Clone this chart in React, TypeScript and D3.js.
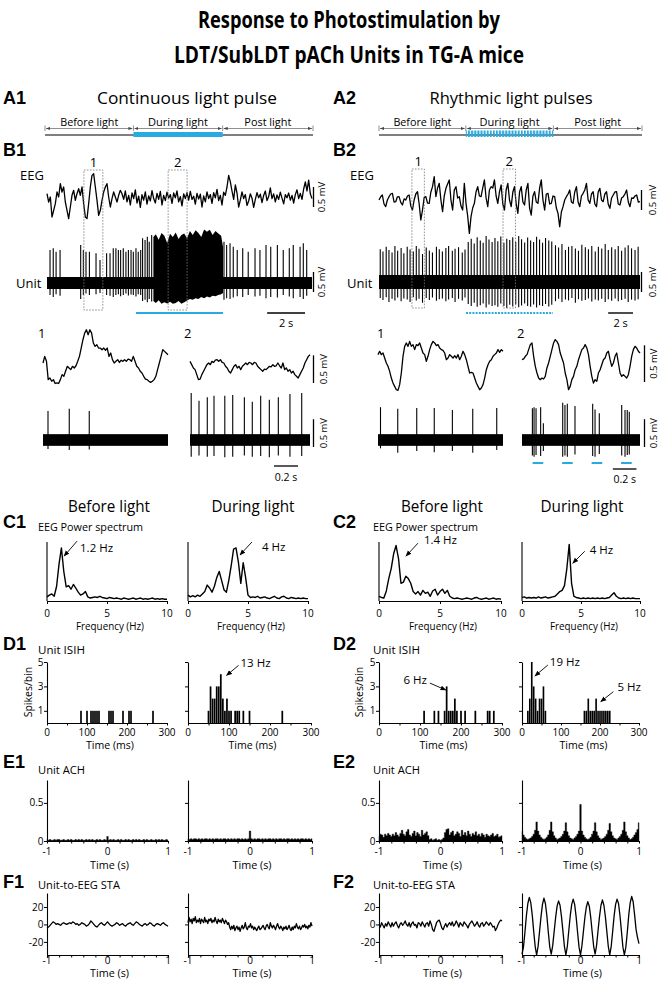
import React from 'react';
import * as d3 from 'd3';

const W = 660;
const H = 983;
const CYAN = '#29abe2';
const SANS = "'Open Sans', 'Noto Sans', sans-serif";
const ARIAL = "'Liberation Sans', Arial, sans-serif";

// ---------- A: protocol ----------
const phaseLabels = ['Before light', 'During light', 'Post light'];
const phaseBounds = [0, 0.33, 0.663, 1];
const phaseLabelWidths = [58, 60, 47];

// ---------- B: raw traces (uV) ----------
const eegB1 = [
  83, -125, 0, -500, -333, -167, 125, 0, 333, 125, 250, -125, -333, -540, -250, 42, 167, -83, 83, 208,
  42, 250, -167, -500, -540, -167, 250, 540, 580, 250, -83, -460, -333, -83, 125, 250, 333, 0, -250, -42,
  125, 0, -125, 42, 167,
  80, -60, 150, -120, 40, -200, 100, -40, 180, -150, 20, -260, 60, -80, 130, -180, 30, -100, 160, -40,
  -150, 90, -60, 140, -200, 40, -90, 120, -30, 60, -160, 100, -20, 150, -120, 10, -220, 80, -40, 110,
  -80, 140, -60, 20, -180, 90, -50, 70, -250, 30, -120, 130, -40, 60, -160, 110, -20, 190, -90, 40,
  -200, 120, 40, 250, 540, 380, 150, -60, 300, 100, -250, -80, 130, -40, 60, -210, -100, 80, -30, -260,
  -60, 110, -20, 70, -140, 40, 150, -90, 10, 230, -40, 80, -120, 50, -60, 120, -30, -170, 60, -20,
  100, -80, 40, -150, 60, 180, -40, 90, -60, 200, 380, 150, 420, 80, -40,
];
const eegB2 = [
  0, 80, 125, -100, -167, 0, 83, 150, 167, -50, -42, 80, 83, -60, -125, 30, 0, 100, 125, -150,
  -250, 0, 150, 208, -100, -500, -250, 60, 83, -80, -83, 200, 333, 583, 83, 300, 417, 0, -292, 100,
  292, 400, 500, 0, -250, 250, 333, 50, 83, -150, -250, 417, -83, -400, -833, -417, -200, -83, 200, 333,
  100, 83, 300, 500, 50, -167, 250, 333, 300, 500, 100, -83, 200, 375, -100, -250, 250, 417, 0, -167,
  200, 333, -100, -333, 200, 333, -50, -125, 250, 417, -200, -375, 100, 208, -50, -83, 300, 500, 0, -250,
  150, 167, -100, -83, 100, 83, -200, -333, -667, -300, -167, 0, 83, 150, 250, -50, -83, 200, 333, -50,
  -167, 100, 167, 250, 417, 0, -83, 150, 208, -100, -167, 200, 292, 0, -42, 150, 208, -100, -208, 50,
  125, 200, 208, -100, -125, 50, 83, 150, 250, -50, -167, 50, 42, 100, 125, -50, -42,
];

const durB1 = 14;
const durB2 = 21;
const lightB1 = [4.7, 9.3];
const lightB2 = [7.0, 14.0];
const windowsB1 = [1.95, 6.4];
const windowsB2 = [2.65, 9.98];
const windowDur = 1.0;

const unitB1T = [
  0.16, 0.33, 0.48, 0.69, 1.78, 1.92, 2.06, 2.24, 2.59, 2.8, 3.15, 3.33, 3.5, 3.64, 3.77, 3.89,
  4.03, 4.17, 4.3, 4.44, 4.56, 4.7, 4.82, 4.95, 5.05, 5.18, 5.3, 5.4, 5.53,
  9.35, 9.49, 9.67, 9.84, 10.05, 10.34, 10.63, 10.99, 11.25, 11.57, 11.82, 12.17, 12.48, 12.8,
  13.01, 13.37, 13.54, 13.72,
];
const unitB1Up = [
  825, 867, 783, 825, 950, 825, 783, 783, 742, 575, 742, 742, 867, 867, 825, 825, 867, 783, 825, 825,
  783, 867, 783, 825, 1117, 1075, 1158, 1033, 1200, 1033, 950, 992, 908, 825, 867, 783, 867, 825, 950,
  908, 950, 825, 867, 950, 908, 992, 825,
];
const unitB1Down = [
  -300, -350, -280, -320, -400, -300, -260, -300, -280, -250, -300, -320, -350, -300, -280, -330,
  -300, -260, -310, -290, -300, -340, -280, -300, -450, -420, -480, -400, -460, -420, -380, -400,
  -360, -330, -350, -300, -340, -320, -380, -350, -360, -300, -340, -380, -350, -400, -320,
];
// dense firing during the light pulse: envelope of the spike block
const burstB1T = [
  5.62, 5.75, 5.9, 6.05, 6.2, 6.35, 6.5, 6.65, 6.8, 6.95, 7.1, 7.25, 7.4, 7.55, 7.7, 7.85, 8.0,
  8.15, 8.3, 8.45, 8.6, 8.75, 8.9, 9.05, 9.2, 9.3,
];
const burstB1Top = [
  1150, 1220, 1080, 1250, 1180, 1000, 1230, 1150, 1260, 1100, 1200, 1240, 1120, 1300, 1200, 1320,
  1250, 1150, 1340, 1280, 1330, 1200, 1300, 1240, 1180, 900,
];
const burstB1Bot = [
  -450, -500, -430, -520, -480, -510, -470, -520, -500, -450, -520, -480, -440, -400, -420, -380,
  -400, -350, -380, -340, -360, -320, -330, -300, -280, -250,
];

const unitB2T = [
  0.1, 0.32, 0.58, 0.8, 1.05, 1.28, 1.5, 1.78, 2.0, 2.27, 2.5, 2.76, 3.0, 3.22, 3.5, 3.8, 4.05, 4.3,
  4.62, 4.85, 5.1, 5.38, 5.6, 5.9, 6.12, 6.4, 6.7, 6.92,
  7.18, 7.42, 7.66, 7.9, 8.15, 8.38, 8.62, 8.85, 9.1, 9.33, 9.56, 9.8, 10.05, 10.28, 10.52, 10.76,
  11.0, 11.24, 11.47, 11.72, 11.96, 12.2, 12.44, 12.68, 12.92, 13.16, 13.4, 13.66, 13.9,
  14.2, 14.45, 14.72, 15.0, 15.25, 15.52, 15.8, 16.05, 16.32, 16.6, 16.85, 17.12, 17.4, 17.65, 17.92,
  18.2, 18.45, 18.72, 19.0, 19.25, 19.52, 19.8, 20.05, 20.32, 20.6, 20.85,
];
const unitB2Up = [
  820, 760, 880, 800, 740, 900, 780, 850, 720, 880, 810, 760, 900, 830, 700, 860, 790, 740, 880, 820,
  760, 850, 900, 780, 830, 870, 740, 810,
  1000, 1080, 960, 1120, 1040, 980, 1150, 1060, 1000, 1100, 1020, 1140, 980, 1080, 1050, 1120, 1000,
  1150, 1070, 990, 1110, 1040, 1000, 1130, 1060, 980, 1100, 1040, 1010,
  920, 860, 950, 800, 880, 900, 840, 780, 930, 870, 820, 900, 760, 880, 840, 950, 800, 870, 820, 900,
  780, 860, 920, 840, 800, 880,
];
const unitB2Down = [
  -400, -450, -380, -500, -420, -460, -390, -480, -410, -440, -500, -380, -460, -420, -520, -400,
  -450, -390, -470, -430, -410, -480, -440, -400, -500, -420, -460, -390,
  -550, -600, -520, -620, -580, -540, -640, -560, -600, -580, -620, -540, -600, -650, -570, -610,
  -560, -630, -590, -540, -600, -620, -560, -640, -580, -600, -550, -610, -570,
  -480, -420, -500, -440, -460, -400, -520, -430, -470, -450, -410, -490, -440, -460, -420, -500,
  -430, -470, -410, -480, -450, -420, -500, -440, -460, -430,
];

// ---------- B: expanded 1 s windows ----------
const insEegB1a = [
  0, 120, 30, -300, -270, -330, -300, -370, -360, -370, -300, -210, -240, -150, -60, -90, -120, -60,
  -90, -50, 30, 120, 270, 420, 540, 600, 510, 600, 540, 360, 300, 330, 270, 270, 240, 270, 230, 270,
  120, 180, 60, 0, 30, 60, 10, 50, 30, 60, 30, 70, 60, 30, 120, 30, -60, -90, -150, -180, -240, -290,
  -300, -330, -350, -330, -300, -240, -120, 0, 120, 240, 210, 180, 150,
];
const insEegB1b = [
  30, -30, -90, -120, -210, -300, -290, -210, -150, -90, -30, 0, -30, 30, 10, 50, 60, 30, 60, 10, 0,
  -60, -90, -150, -180, -120, -60, -30, -90, -60, -120, -60, -30, 0, -30, 10, 0, -30, 10, 0, -60, -90,
  -120, -150, -110, -120, -90, -60, -70, -30, -60, -50, 0, -50, -90, 0, -120, -90, -150, -120, -180,
  -150, -210, -240, -270, -210, -150, -90, 0, 60, 120, 150,
];
const insEegB2a = [
  114, 159, 114, 136, 68, 0, -45, -114, -205, -273, -318, -364, -373, -295, -136, 91, 227, 273, 227,
  295, 227, 250, 182, 250, 236, 273, 205, 136, 114, 23, 91, 182, 250, 295, 273, 236, 250, 205, 182,
  173, 136, 45, 68, 114, 91, 68, 100, 68, 114, 45, 91, 159, 114, 45, -45, -136, -127, -136, -205, -273,
  -318, -364, -341, -295, -205, -91, -23, 23, 45, 91, 114, 136, 182, 145, 182, 159,
];
const insEegB2b = [
  45, 55, 91, 114, 182, 250, 273, 91, -45, -136, -205, -227, -205, -218, -182, -68, 0, 91, 182, 273,
  318, 295, 250, 136, 68, 0, -136, -227, -364, -318, -227, -182, -91, -45, 45, 114, 182, 205, 250, 205,
  114, -45, -182, -273, -227, -250, -136, -91, -23, 45, 68, 136, 159, 45, -45, 0, 91, 136, 0, -136,
  -182, -159, -182, -205, -159, -45, 91, 182, 227, 205, 159, 136,
];
const insB1aT = [0.04, 0.21, 0.37];
const insB1aUp = [520, 560, 520];
const insB1aDown = [-160, -180, -170];
const insB1bT = [0.01, 0.075, 0.144, 0.2, 0.29, 0.356, 0.453, 0.519, 0.589, 0.661, 0.736, 0.833, 0.931];
const insB1bUp = [846, 707, 768, 797, 797, 810, 768, 689, 797, 725, 768, 828, 846];
const insB1bDown = [-300, -280, -300, -290, -310, -300, -280, -300, -290, -310, -280, -300, -290];
const insB2aT = [0.02, 0.158, 0.31, 0.45, 0.595, 0.758, 0.95];
const insB2aUp = [590, 560, 575, 575, 540, 560, 575];
const insB2aDown = [-150, -230, -200, -220, -200, -230, -180];
const insB2bT = [0.088, 0.102, 0.119, 0.158, 0.181, 0.345, 0.364, 0.384, 0.449, 0.599, 0.619, 0.655, 0.845, 0.873, 0.892, 0.909];
const insB2bUp = [570, 590, 570, 590, 300, 670, 630, 650, 610, 650, 550, 480, 630, 540, 540, 510];
const insB2bDown = [-280, -300, -270, -290, -200, -300, -280, -300, -260, -290, -300, -250, -280, -300, -270, -260];
const pulsesB2 = [0.09, 0.34, 0.59, 0.84];
const pulseDur = 0.09;

// ---------- C: EEG power spectra (0-10 Hz, 0.2 Hz steps, normalised) ----------
const psFreq = d3.range(0, 10.0001, 0.2);
const psC1Before = [
  0.07, 0.1, 0.12, 0.08, 0.25, 0.62, 0.9, 0.5, 0.24, 0.26, 0.2, 0.28, 0.22, 0.15, 0.1, 0.12, 0.16,
  0.07, 0.05, 0.06, 0.07, 0.06, 0.08, 0.06, 0.05, 0.04, 0.06, 0.05, 0.04, 0.05, 0.04, 0.03, 0.05, 0.04,
  0.03, 0.04, 0.05, 0.03, 0.04, 0.05, 0.03, 0.04, 0.03, 0.04, 0.05, 0.03, 0.04, 0.03, 0.04, 0.03, 0.03,
];
const psC1During = [
  0.1, 0.07, 0.09, 0.07, 0.1, 0.08, 0.12, 0.16, 0.27, 0.22, 0.15, 0.25, 0.4, 0.5, 0.35, 0.19, 0.15,
  0.35, 0.6, 0.88, 0.9, 0.66, 0.3, 0.65, 0.4, 0.1, 0.06, 0.07, 0.06, 0.08, 0.05, 0.06, 0.07, 0.05,
  0.04, 0.06, 0.08, 0.05, 0.04, 0.07, 0.08, 0.05, 0.04, 0.06, 0.05, 0.04, 0.05, 0.04, 0.05, 0.04, 0.04,
];
const psC2Before = [
  0.08, 0.06, 0.05, 0.17, 0.38, 0.55, 0.8, 0.94, 0.72, 0.3, 0.32, 0.42, 0.38, 0.3, 0.16, 0.12, 0.16,
  0.1, 0.18, 0.13, 0.15, 0.08, 0.17, 0.2, 0.1, 0.16, 0.2, 0.13, 0.18, 0.08, 0.05, 0.04, 0.05, 0.04,
  0.03, 0.04, 0.05, 0.04, 0.03, 0.05, 0.06, 0.04, 0.03, 0.04, 0.05, 0.03, 0.04, 0.05, 0.03, 0.04, 0.03,
];
const psC2During = [
  0.06, 0.07, 0.05, 0.06, 0.05, 0.06, 0.05, 0.07, 0.05, 0.06, 0.07, 0.05, 0.06, 0.07, 0.08, 0.12, 0.16,
  0.18, 0.26, 0.55, 0.96, 0.3, 0.08, 0.06, 0.05, 0.04, 0.05, 0.04, 0.05, 0.04, 0.05, 0.04, 0.05, 0.04,
  0.05, 0.04, 0.05, 0.06, 0.1, 0.14, 0.08, 0.05, 0.04, 0.05, 0.04, 0.05, 0.04, 0.05, 0.04, 0.04, 0.04,
];

// ---------- D: ISIH (5 ms bins, ms and counts) ----------
const isihD1BeforeMs = [85, 100, 110, 115, 120, 125, 130, 155, 160, 165, 190, 205, 210, 265];
const isihD1BeforeN = [1, 1, 1, 1, 1, 1, 1, 1, 1, 1, 1, 1, 1, 1];
const isihD1DuringMs = [50, 55, 60, 65, 70, 75, 80, 85, 90, 95, 100, 105, 115, 120, 125, 135, 150, 230];
const isihD1DuringN = [1, 3, 2, 2, 3, 3, 4, 2, 1, 2, 1, 1, 1, 1, 1, 1, 1, 1];
const isihD2BeforeMs = [110, 135, 145, 160, 165, 170, 175, 180, 185, 190, 200, 210, 235, 265, 270, 280];
const isihD2BeforeN = [1, 1, 1, 1, 3, 1, 1, 1, 2, 1, 1, 1, 1, 1, 1, 1];
const isihD2DuringMs = [15, 20, 25, 30, 35, 40, 45, 50, 55, 60, 160, 165, 170, 175, 180, 185, 190, 195, 200, 205, 210, 215, 220, 225];
const isihD2DuringN = [1, 2, 5, 3, 2, 1, 2, 2, 3, 1, 1, 1, 2, 1, 1, 1, 2, 1, 1, 1, 1, 1, 1, 1];

// ---------- E: autocorrelograms (-1..1 s, 25 ms bins) ----------
const achT = d3.range(-1, 1.0001, 0.025);
const achE1Before = [
  0.02, 0.01, 0.02, 0.01, 0.01, 0.02, 0.01, 0.02, 0.02, 0.01, 0.01, 0.02, 0.01, 0.01, 0.02, 0.01, 0.02, 0.01, 0.01, 0.02,
  0.01, 0.02, 0.01, 0.02, 0.01, 0.01, 0.02, 0.01, 0.02, 0.01, 0.02, 0.01, 0.01, 0.02, 0.01, 0.02, 0.01, 0.01, 0.02, 0.01,
  0.06,
  0.01, 0.02, 0.01, 0.02, 0.01, 0.01, 0.02, 0.01, 0.02, 0.01, 0.01, 0.02, 0.01, 0.02, 0.01, 0.01, 0.02, 0.01, 0.02, 0.01,
  0.02, 0.01, 0.01, 0.02, 0.01, 0.02, 0.01, 0.01, 0.02, 0.01, 0.01, 0.02, 0.01, 0.02, 0.01, 0.02, 0.01, 0.01, 0.02, 0.01,
];
const achE1During = [
  0.03, 0.02, 0.03, 0.02, 0.03, 0.03, 0.02, 0.03, 0.02, 0.03, 0.02, 0.03, 0.03, 0.02, 0.03, 0.02, 0.03, 0.02, 0.03, 0.03,
  0.02, 0.03, 0.02, 0.03, 0.03, 0.02, 0.03, 0.02, 0.03, 0.02, 0.03, 0.02, 0.03, 0.03, 0.02, 0.03, 0.02, 0.03, 0.02, 0.03,
  0.13,
  0.03, 0.02, 0.03, 0.02, 0.03, 0.03, 0.02, 0.03, 0.02, 0.03, 0.02, 0.03, 0.03, 0.02, 0.03, 0.02, 0.03, 0.02, 0.03, 0.03,
  0.02, 0.03, 0.02, 0.03, 0.03, 0.02, 0.03, 0.02, 0.03, 0.02, 0.03, 0.02, 0.03, 0.03, 0.02, 0.03, 0.02, 0.03, 0.02, 0.03,
];
const achE2Before = [
  0.06, 0.09, 0.08, 0.05, 0.09, 0.07, 0.1, 0.08, 0.06, 0.09, 0.07, 0.11, 0.08, 0.06, 0.1, 0.14, 0.09, 0.07, 0.12, 0.15,
  0.08, 0.06, 0.1, 0.13, 0.07, 0.11, 0.09, 0.06, 0.14, 0.08, 0.1, 0.12, 0.07, 0.02, 0.03, 0.01, 0.02, 0.03, 0.01, 0.02,
  0.01,
  0.02, 0.04, 0.11, 0.15, 0.16, 0.08, 0.11, 0.13, 0.07, 0.09, 0.12, 0.1, 0.06, 0.14, 0.08, 0.11, 0.07, 0.13, 0.09, 0.06,
  0.1, 0.08, 0.12, 0.07, 0.09, 0.06, 0.1, 0.08, 0.05, 0.09, 0.07, 0.06, 0.08, 0.1, 0.06, 0.07, 0.09, 0.05, 0.06, 0.07,
];
const achE2During = [
  0.13, 0.08, 0.05, 0.03, 0.02, 0.03, 0.04, 0.06, 0.09, 0.14, 0.25, 0.13, 0.08, 0.05, 0.03, 0.02, 0.03, 0.05, 0.08, 0.14,
  0.25, 0.12, 0.07, 0.04, 0.02, 0.03, 0.04, 0.06, 0.09, 0.13, 0.24, 0.12, 0.07, 0.04, 0.03, 0.02, 0.04, 0.06, 0.09, 0.13,
  0.48,
  0.13, 0.08, 0.05, 0.03, 0.02, 0.03, 0.05, 0.09, 0.13, 0.24, 0.12, 0.07, 0.04, 0.02, 0.03, 0.04, 0.06, 0.09, 0.14, 0.23,
  0.12, 0.07, 0.04, 0.03, 0.02, 0.04, 0.06, 0.09, 0.14, 0.25, 0.12, 0.07, 0.04, 0.02, 0.03, 0.05, 0.08, 0.11, 0.15, 0.24,
];

// ---------- F: spike-triggered EEG averages (-1..1 s, uV) ----------
const staF1Before = [
  -4, -3, -1, 1, 3, 2, 0, 1, 0, -1, 1, 2, 1, 0, 1, 2, 1, 3, 2, 0, 1, -1, 0, 2, 1, 0, -2, -1, 1, 4,
  2, 0, -2, -3, -1, 1, 2, 0, -1, 1, 3, 1, -1, -2, -1, 0, 2, 1, -1, 0, 1, -1, -2, 0, 1, 2, 0, -1, 1, 3,
  2, 0, -1, -2, 0, 1, -1, 0, 2, 1, -1, -2, 0, 1, 0, -1, 1, 2, 0, -1, -2,
];
const staF1During = [
  2, 8, 3, 6, 1, 7, 4, 9, 2, 5, 3, 7, 1, 6, 4, 2, 8, 3, 5, 1, 6, 4, 7, 2, 5, 3, 8, 4, 1, 6, 3, 5, 2, 7, 4, 1, 5, 3, 0, 2,
  -3, -6, -2, -5, -1, -7, -4, -2, -6, -3, -8, -4, -1, -5, -3, 2, -4, -6, -2, -3, 1, -4, -2, -6, -3, -5, -7, -4, -2, -6,
  -5, -3, -1, -4, -6, -2, 0, -3, -5, 2, -2, -4, -1, -3, -6, -2, 1, -3, -5, -2, -4, -7, -3, -5, -2, -6, -4, -1, -5, -7,
  -3, -6, -2, -4, 1, -3, -5, -2, -6, -4, -1, -3, 0, -4, -2, -5, -1, -3, 2, -2,
];
const staF2Before = [
  0, -3, 2, -1, -4, 1, -2, 3, 0, -3, 2, -2, 1, 3, -1, -4, 0, 2, -1, 1, 4, 0, -2, 2, -3, 1, 3, -1, 0, -4,
  2, 1, -2, 3, 0, -3, 1, 2, -2, 4, 0, -6, -8, -3, 2, 4, 5, 1, -4, -6, -2, 1, -3, 0, 2, -1, 3, -2, 0, 4,
  1, -3, 2, 0, -2, 3, 1, -1, -4, 0, 2, 4, 1, -2, 0, 3, -1, -3, 1, 2, -2, 0, 3, 1, -1, 2, 0, -3, -2, -7,
  -4, 0, 3, 5, 4,
];
const staF2During = [
  -34, -26, -9, 10, 24, 31, 25, 11, -8, -25, -35, -25, -8, 9, 23, 30, 24, 10, -9, -26,
  -34, -24, -8, 8, 21, 27, 22, 9, -8, -25, -35, -25, -7, 10, 23, 29, 23, 9, -9, -26,
  -35, -24, -8, 8, 20, 26, 21, 8, -9, -25, -34, -24, -7, 9, 22, 28, 22, 9, -8, -25,
  -35, -25, -8, 10, 23, 29, 24, 10, -8, -26, -35, -26, -9, 11, 25, 32, 26, 11, -6, -15, -22,
];

// ---------- helpers ----------
type TxtProps = {
  x: number; y: number; size?: number; anchor?: string; w?: number; bold?: boolean;
  family?: string; rotate?: number; dy?: string; children: React.ReactNode;
};
function Txt({ x, y, size = 11, anchor = 'start', w, bold = false, family = SANS, rotate, dy, children }: TxtProps) {
  return (
    <text x={x} y={y} dy={dy} fontSize={size} textAnchor={anchor} fontFamily={family}
      fontWeight={bold ? 700 : 400} fill="#000"
      textLength={w} lengthAdjust={w ? 'spacingAndGlyphs' : undefined}
      transform={rotate ? `rotate(${rotate},${x},${y})` : undefined}>
      {children}
    </text>
  );
}

function Axis({ scale, side, ticks, size = 3, at }: any) {
  return (
    <g transform={side === 'left' ? `translate(${at},0)` : `translate(0,${at})`}
      ref={(node) => {
        if (!node) return;
        const axis = (side === 'left' ? d3.axisLeft(scale) : d3.axisBottom(scale))
          .tickValues(ticks).tickSize(size).tickSizeOuter(0).tickFormat(() => '');
        const g = d3.select(node);
        g.call(axis as any);
        g.select('.domain').attr('stroke', '#000').attr('stroke-width', 1.1);
        g.selectAll('.tick line').attr('stroke', '#000');
      }} />
  );
}

function Eeg({ values, x0, x1, cy, px500 }: any) {
  const xs = d3.scaleLinear().domain([0, values.length - 1]).range([x0, x1]);
  const ys = d3.scaleLinear().domain([0, 500]).range([cy, cy - px500]);
  const line = d3.line<number>().x((_, i) => xs(i)).y((d) => ys(d));
  return <path d={line(values) ?? ''} fill="none" stroke="#000" strokeWidth={1.3} strokeLinejoin="round" />;
}

function Unit({ dur, x0, x1, cy, px500, noise, times, up, down, burst }: any) {
  const xs = d3.scaleLinear().domain([0, dur]).range([x0, x1]);
  const ys = d3.scaleLinear().domain([0, 500]).range([cy, cy - px500]);
  let burstPath = '';
  if (burst) {
    const area = d3.area<number>().x((t) => xs(t))
      .y0((_, i) => ys(burst.bot[i])).y1((_, i) => ys(burst.top[i]));
    burstPath = area(burst.t) ?? '';
  }
  return (
    <g>
      <rect x={x0} y={ys(noise)} width={x1 - x0} height={ys(-noise) - ys(noise)} fill="#000" />
      {burst && <path d={burstPath} fill="#000" />}
      {times.map((t: number, i: number) => (
        <line key={i} x1={xs(t)} x2={xs(t)} y1={ys(up[i] ?? 600)} y2={ys(down[i] ?? -noise)}
          stroke="#000" strokeWidth={1.1} />
      ))}
    </g>
  );
}

function VBar({ x, yBottom, px500, labelX }: any) {
  return (
    <g>
      <line x1={x} x2={x} y1={yBottom} y2={yBottom - px500} stroke="#000" strokeWidth={1.3} />
      <Txt x={labelX} y={yBottom - px500 / 2} size={9.5} anchor="middle" rotate={-90}>0.5 mV</Txt>
    </g>
  );
}

function Timeline({ x0, x1, rhythmic }: any) {
  const xs = d3.scaleLinear().domain([0, 1]).range([x0, x1]);
  const b = phaseBounds.map((f) => xs(f));
  return (
    <g>
      <line x1={b[0]} x2={b[3]} y1={135} y2={135} stroke="#555" strokeWidth={1.6} />
      {rhythmic
        ? <rect x={b[1]} y={130.5} width={b[2] - b[1]} height={6.5} fill="url(#stripes)" />
        : <rect x={b[1]} y={132} width={b[2] - b[1]} height={5} fill={CYAN} />}
      {phaseLabels.map((lab, i) => (
        <g key={lab}>
          <line x1={b[i] + 1} x2={b[i + 1] - 1} y1={128.5} y2={128.5} stroke="#444" strokeWidth={0.6}
            markerStart="url(#dim)" markerEnd="url(#dim)" />
          <Txt x={(b[i] + b[i + 1]) / 2} y={125.5} size={11.5} anchor="middle" w={phaseLabelWidths[i]}>{lab}</Txt>
        </g>
      ))}
      {b.map((x, i) => (
        <line key={i} x1={x} x2={x} y1={125.5} y2={131} stroke="#444" strokeWidth={0.6} />
      ))}
    </g>
  );
}

function Note({ hx, hy, dx, dy, tx, ty, label, anchor = 'start' }: any) {
  return (
    <g>
      <line x1={hx + dx} y1={hy + dy} x2={hx} y2={hy} stroke="#000" strokeWidth={0.9} markerEnd="url(#ah)" />
      <Txt x={hx + dx + tx} y={hy + dy + ty} size={11.5} anchor={anchor}>{label}</Txt>
    </g>
  );
}

function Spectrum({ x0, x1, values, note }: any) {
  const xs = d3.scaleLinear().domain([0, 10]).range([x0, x1]);
  const ys = d3.scaleLinear().domain([0, 1]).range([601, 542]);
  const line = d3.line<number>().x((_, i) => xs(psFreq[i])).y((d) => ys(d));
  return (
    <g>
      <line x1={x0} x2={x0} y1={ys(0)} y2={ys(1)} stroke="#000" strokeWidth={1.1} />
      <Axis scale={xs} side="bottom" ticks={[0, 5, 10]} size={3} at={ys(0)} />
      <path d={line(values) ?? ''} fill="none" stroke="#000" strokeWidth={1.4} strokeLinejoin="round" />
      {[0, 5, 10].map((v) => <Txt key={v} x={xs(v)} y={616.5} size={10} anchor="middle">{v}</Txt>)}
      <Txt x={(x0 + x1) / 2 + 3} y={630} size={10} anchor="middle" w={68}>Frequency (Hz)</Txt>
      {note && <Note hx={xs(note.f)} hy={ys(note.v)} {...note} />}
    </g>
  );
}

function Isih({ x0, x1, ms, counts, labels, notes }: any) {
  const xs = d3.scaleLinear().domain([0, 300]).range([x0, x1]);
  const ys = d3.scaleLinear().domain([0, 5]).range([723, 662]);
  const bw = xs(4.2) - xs(0);
  return (
    <g>
      {ms.map((m: number, i: number) => (
        <rect key={i} x={xs(m) - bw / 2} y={ys(counts[i])} width={bw} height={ys(0) - ys(counts[i])} fill="#000" />
      ))}
      <Axis scale={ys} side="left" ticks={[1, 3, 5]} size={3} at={x0} />
      <Axis scale={xs} side="bottom" ticks={[0, 50, 100, 150, 200, 250, 300]} size={2.5} at={ys(0)} />
      {labels && [1, 3, 5].map((v) => (
        <Txt key={v} x={x0 - 3.5} y={ys(v)} dy="0.36em" size={10} anchor="end">{v}</Txt>
      ))}
      {[0, 100, 200, 300].map((v) => <Txt key={v} x={xs(v)} y={735.5} size={10} anchor="middle">{v}</Txt>)}
      <Txt x={(x0 + x1) / 2 + 3} y={748.5} size={10} anchor="middle" w={48}>Time (ms)</Txt>
      {notes && notes.map((n: any) => <Note key={n.label} hx={xs(n.ms)} hy={ys(n.n)} {...n} />)}
    </g>
  );
}

const secTicks = d3.range(-1, 1.0001, 0.2);

function Ach({ x0, x1, values, labels }: any) {
  const xs = d3.scaleLinear().domain([-1, 1]).range([x0, x1]);
  const ys = d3.scaleLinear().domain([0, 0.8]).range([841, 780]);
  const area = d3.area<number>().x((_, i) => xs(achT[i])).y0(ys(0)).y1((d) => ys(d)).curve(d3.curveStep);
  return (
    <g>
      <path d={area(values) ?? ''} fill="#000" stroke="#000" strokeWidth={0.4} />
      <Axis scale={ys} side="left" ticks={[0, 0.5]} size={3} at={x0} />
      <Axis scale={xs} side="bottom" ticks={secTicks} size={2.5} at={ys(0)} />
      {labels && [0, 0.5].map((v) => (
        <Txt key={v} x={x0 - 3.5} y={ys(v)} dy="0.36em" size={10} anchor="end">{v}</Txt>
      ))}
      {[-1, 0, 1].map((v) => <Txt key={v} x={xs(v)} y={855} size={10} anchor="middle">{v}</Txt>)}
      <Txt x={(x0 + x1) / 2 + 2} y={868.5} size={10} anchor="middle" w={39}>Time (s)</Txt>
    </g>
  );
}

function Sta({ x0, x1, values, labels }: any) {
  const xi = d3.scaleLinear().domain([0, values.length - 1]).range([-1, 1]);
  const xs = d3.scaleLinear().domain([-1, 1]).range([x0, x1]);
  const ys = d3.scaleLinear().domain([-35, 36]).range([955, 893]);
  const line = d3.line<number>().x((_, i) => xs(xi(i))).y((d) => ys(d));
  return (
    <g>
      <Axis scale={ys} side="left" ticks={[-20, 0, 20]} size={3} at={x0} />
      <Axis scale={xs} side="bottom" ticks={secTicks} size={2.5} at={ys(-35)} />
      <path d={line(values) ?? ''} fill="none" stroke="#000" strokeWidth={1.3} strokeLinejoin="round" />
      {labels && [-20, 0, 20].map((v) => (
        <Txt key={v} x={x0 - 3.5} y={ys(v)} dy="0.36em" size={10} anchor="end">{v}</Txt>
      ))}
      {[-1, 0, 1].map((v) => <Txt key={v} x={xs(v)} y={964} size={10} anchor="middle">{v}</Txt>)}
      <Txt x={(x0 + x1) / 2 + 2} y={977} size={10} anchor="middle" w={39}>Time (s)</Txt>
    </g>
  );
}

function RawColumn({ x0, x1, eeg, eegCy, unitCy, dur, noise, times, up, down, burst, windows, light, rhythmic, labelX, boxTop, boxBot }: any) {
  const xs = d3.scaleLinear().domain([0, dur]).range([x0, x1]);
  const barLen = xs(2) - xs(0);
  return (
    <g>
      <Eeg values={eeg} x0={x0} x1={x1} cy={eegCy} px500={20} />
      <Unit dur={dur} x0={x0} x1={x1} cy={unitCy} px500={20} noise={noise} times={times} up={up} down={down} burst={burst} />
      {windows.map((w: number, i: number) => (
        <g key={i}>
          <rect x={xs(w)} y={boxTop} width={xs(w + windowDur) - xs(w)} height={boxBot - boxTop}
            fill="none" stroke="#777" strokeWidth={0.8} strokeDasharray="1.6,1.4" />
          <Txt x={xs(w + windowDur / 2)} y={boxTop - 3} size={13} anchor="middle">{i + 1}</Txt>
        </g>
      ))}
      <line x1={xs(light[0])} x2={xs(light[1])} y1={313} y2={313} stroke={CYAN}
        strokeWidth={rhythmic ? 1.8 : 2.2} strokeDasharray={rhythmic ? '2,1.2' : undefined} />
      <line x1={x1 - 7 - barLen} x2={x1 - 7} y1={313} y2={313} stroke="#000" strokeWidth={1.4} />
      <Txt x={x1 - 7 - barLen / 2} y={327} size={11} anchor="middle">2 s</Txt>
      <VBar x={x1 + 1.5} yBottom={207 + (eegCy - 197)} px500={20} labelX={labelX} />
      <VBar x={x1 + 1.5} yBottom={292} px500={20} labelX={labelX} />
    </g>
  );
}

function Inset({ x0, x1, eeg, px500Eeg, times, up, down, pulses }: any) {
  const xs = d3.scaleLinear().domain([0, 1]).range([x0, x1]);
  return (
    <g>
      <Eeg values={eeg} x0={x0} x1={x1} cy={363} px500={px500Eeg} />
      <Unit dur={1} x0={x0} x1={x1} cy={440} px500={27.8} noise={105} times={times} up={up} down={down} />
      {pulses && pulses.map((p: number) => (
        <line key={p} x1={xs(p)} x2={xs(p + pulseDur)} y1={463} y2={463} stroke={CYAN} strokeWidth={2} />
      ))}
    </g>
  );
}

export default function App() {
  const insB1b = d3.scaleLinear().domain([0, 1]).range([190, 310]);
  const insB2b = d3.scaleLinear().domain([0, 1]).range([522, 640]);
  return (
    <div style={{ position: 'absolute', left: 0, top: 0, width: W, height: H, background: '#fff' }}>
      <svg width={W} height={H} viewBox={`0 0 ${W} ${H}`} style={{ display: 'block' }}>
        <defs>
          <marker id="ah" viewBox="0 0 10 10" refX="9" refY="5" markerWidth="6" markerHeight="6" orient="auto" markerUnits="userSpaceOnUse">
            <path d="M0,1 L10,5 L0,9 z" fill="#000" />
          </marker>
          <marker id="dim" viewBox="0 0 10 10" refX="10" refY="5" markerWidth="4" markerHeight="4" orient="auto-start-reverse" markerUnits="userSpaceOnUse">
            <path d="M0,1 L10,5 L0,9 z" fill="#444" />
          </marker>
          <pattern id="stripes" width="3.1" height="10" patternUnits="userSpaceOnUse">
            <rect x="0" y="0" width="2" height="10" fill={CYAN} />
          </pattern>
        </defs>
        <rect width={W} height={H} fill="#fff" />

        {/* title */}
        <Txt x={349} y={28} size={23} bold anchor="middle" w={302}>Response to Photostimulation by</Txt>
        <Txt x={349} y={63} size={23} bold anchor="middle" w={350}>LDT/SubLDT pACh Units in TG-A mice</Txt>

        {/* A */}
        <Txt x={3} y={104} size={18} bold family={ARIAL}>A1</Txt>
        <Txt x={187} y={104} size={17} anchor="middle" w={180}>Continuous light pulse</Txt>
        <Txt x={333} y={104} size={18} bold family={ARIAL}>A2</Txt>
        <Txt x={511} y={104} size={17} anchor="middle" w={163}>Rhythmic light pulses</Txt>
        <Timeline x0={45} x1={313} rhythmic={false} />
        <Timeline x0={379} x1={642} rhythmic />

        {/* B */}
        <Txt x={3} y={156} size={18} bold family={ARIAL}>B1</Txt>
        <Txt x={333} y={156} size={18} bold family={ARIAL}>B2</Txt>
        <Txt x={20} y={180} size={13}>EEG</Txt>
        <Txt x={16} y={288} size={13}>Unit</Txt>
        <Txt x={350} y={180} size={13}>EEG</Txt>
        <Txt x={347} y={288} size={13}>Unit</Txt>
        <RawColumn x0={47} x1={312} eeg={eegB1} eegCy={197} unitCy={283} dur={durB1} noise={150}
          times={unitB1T} up={unitB1Up} down={unitB1Down}
          burst={{ t: burstB1T, top: burstB1Top, bot: burstB1Bot }}
          windows={windowsB1} light={lightB1} rhythmic={false} labelX={325} boxTop={170} boxBot={310} />
        <RawColumn x0={379} x1={640} eeg={eegB2} eegCy={200} unitCy={282} dur={durB2} noise={175}
          times={unitB2T} up={unitB2Up} down={unitB2Down}
          windows={windowsB2} light={lightB2} rhythmic labelX={656} boxTop={169} boxBot={308} />

        {/* B insets */}
        <Txt x={38} y={338} size={13}>1</Txt>
        <Txt x={184} y={338} size={13}>2</Txt>
        <Txt x={377} y={338} size={13}>1</Txt>
        <Txt x={517} y={338} size={13}>2</Txt>
        <Inset x0={43} x1={168} eeg={insEegB1a} px500Eeg={27.7} times={insB1aT} up={insB1aUp} down={insB1aDown} />
        <Inset x0={190} x1={310} eeg={insEegB1b} px500Eeg={27.7} times={insB1bT} up={insB1bUp} down={insB1bDown} />
        <Inset x0={378} x1={503} eeg={insEegB2a} px500Eeg={36.7} times={insB2aT} up={insB2aUp} down={insB2aDown} />
        <Inset x0={522} x1={640} eeg={insEegB2b} px500Eeg={36.7} times={insB2bT} up={insB2bUp} down={insB2bDown} pulses={pulsesB2} />
        <VBar x={313.5} yBottom={383} px500={27.7} labelX={327} />
        <VBar x={313.5} yBottom={447} px500={27.8} labelX={327} />
        <VBar x={644.5} yBottom={382} px500={36.7} labelX={657} />
        <VBar x={644.5} yBottom={447} px500={27.8} labelX={657} />
        <line x1={insB1b(0.7)} x2={insB1b(0.9)} y1={466} y2={466} stroke="#000" strokeWidth={1.3} />
        <Txt x={insB1b(0.8)} y={481} size={10.5} anchor="middle">0.2 s</Txt>
        <line x1={insB2b(0.77)} x2={insB2b(0.97)} y1={469} y2={469} stroke="#000" strokeWidth={1.3} />
        <Txt x={insB2b(0.87)} y={483} size={10.5} anchor="middle">0.2 s</Txt>

        {/* C */}
        <Txt x={3} y={528} size={18} bold family={ARIAL}>C1</Txt>
        <Txt x={333} y={528} size={18} bold family={ARIAL}>C2</Txt>
        <Txt x={109} y={512} size={17} anchor="middle" w={82}>Before light</Txt>
        <Txt x={253} y={512} size={17} anchor="middle" w={83}>During light</Txt>
        <Txt x={442} y={512} size={17} anchor="middle" w={82}>Before light</Txt>
        <Txt x={582} y={512} size={17} anchor="middle" w={83}>During light</Txt>
        <Txt x={38} y={531} size={11} w={105}>EEG Power spectrum</Txt>
        <Txt x={373} y={531} size={11} w={105}>EEG Power spectrum</Txt>
        <Spectrum x0={47} x1={167} values={psC1Before} note={{ f: 1.42, v: 0.76, dx: 13, dy: -15, tx: 3, ty: 11, label: '1.2 Hz' }} />
        <Spectrum x0={188} x1={308} values={psC1During} note={{ f: 4.33, v: 0.78, dx: 12, dy: -13, tx: 10, ty: 9, label: '4 Hz' }} />
        <Spectrum x0={379} x1={501} values={psC2Before} note={{ f: 2.21, v: 0.76, dx: 12, dy: -13, tx: 6, ty: 1, label: '1.4 Hz' }} />
        <Spectrum x0={522} x1={640} values={psC2During} note={{ f: 4.3, v: 0.64, dx: 12, dy: -12, tx: 5, ty: 3, label: '4 Hz' }} />

        {/* D */}
        <Txt x={3} y={650} size={18} bold family={ARIAL}>D1</Txt>
        <Txt x={333} y={650} size={18} bold family={ARIAL}>D2</Txt>
        <Txt x={38} y={653.5} size={11} w={47}>Unit ISIH</Txt>
        <Txt x={373} y={653.5} size={11} w={47}>Unit ISIH</Txt>
        <Txt x={32} y={692} size={10.5} anchor="middle" rotate={-90}>Spikes/bin</Txt>
        <Txt x={363} y={692} size={10.5} anchor="middle" rotate={-90}>Spikes/bin</Txt>
        <Isih x0={47} x1={167} ms={isihD1BeforeMs} counts={isihD1BeforeN} labels />
        <Isih x0={188} x1={311} ms={isihD1DuringMs} counts={isihD1DuringN}
          notes={[{ ms: 94, n: 3.9, dx: 12, dy: -10, tx: 2, ty: 2, label: '13 Hz' }]} />
        <Isih x0={379} x1={502} ms={isihD2BeforeMs} counts={isihD2BeforeN} labels
          notes={[{ ms: 163, n: 2.7, dx: -16, dy: -7, tx: -3, ty: 1, label: '6 Hz', anchor: 'end' }]} />
        <Isih x0={522} x1={639} ms={isihD2DuringMs} counts={isihD2DuringN}
          notes={[
            { ms: 33, n: 3.85, dx: 13, dy: -11, tx: 2, ty: 1, label: '19 Hz' },
            { ms: 202, n: 1.75, dx: 12.6, dy: -10, tx: 4, ty: -1, label: '5 Hz' },
          ]} />

        {/* E */}
        <Txt x={3} y={768} size={18} bold family={ARIAL}>E1</Txt>
        <Txt x={333} y={768} size={18} bold family={ARIAL}>E2</Txt>
        <Txt x={38} y={774} size={11} w={47}>Unit ACH</Txt>
        <Txt x={373} y={774} size={11} w={47}>Unit ACH</Txt>
        <Ach x0={47} x1={168} values={achE1Before} labels />
        <Ach x0={188} x1={312} values={achE1During} />
        <Ach x0={379} x1={502} values={achE2Before} labels />
        <Ach x0={522} x1={639} values={achE2During} />

        {/* F */}
        <Txt x={3} y={888} size={18} bold family={ARIAL}>F1</Txt>
        <Txt x={333} y={888} size={18} bold family={ARIAL}>F2</Txt>
        <Txt x={38} y={889} size={11} w={82}>Unit-to-EEG STA</Txt>
        <Txt x={373} y={889} size={11} w={82}>Unit-to-EEG STA</Txt>
        <Sta x0={47} x1={168} values={staF1Before} labels />
        <Sta x0={188} x1={312} values={staF1During} />
        <Sta x0={379} x1={502} values={staF2Before} labels />
        <Sta x0={522} x1={639} values={staF2During} />
      </svg>
    </div>
  );
}
